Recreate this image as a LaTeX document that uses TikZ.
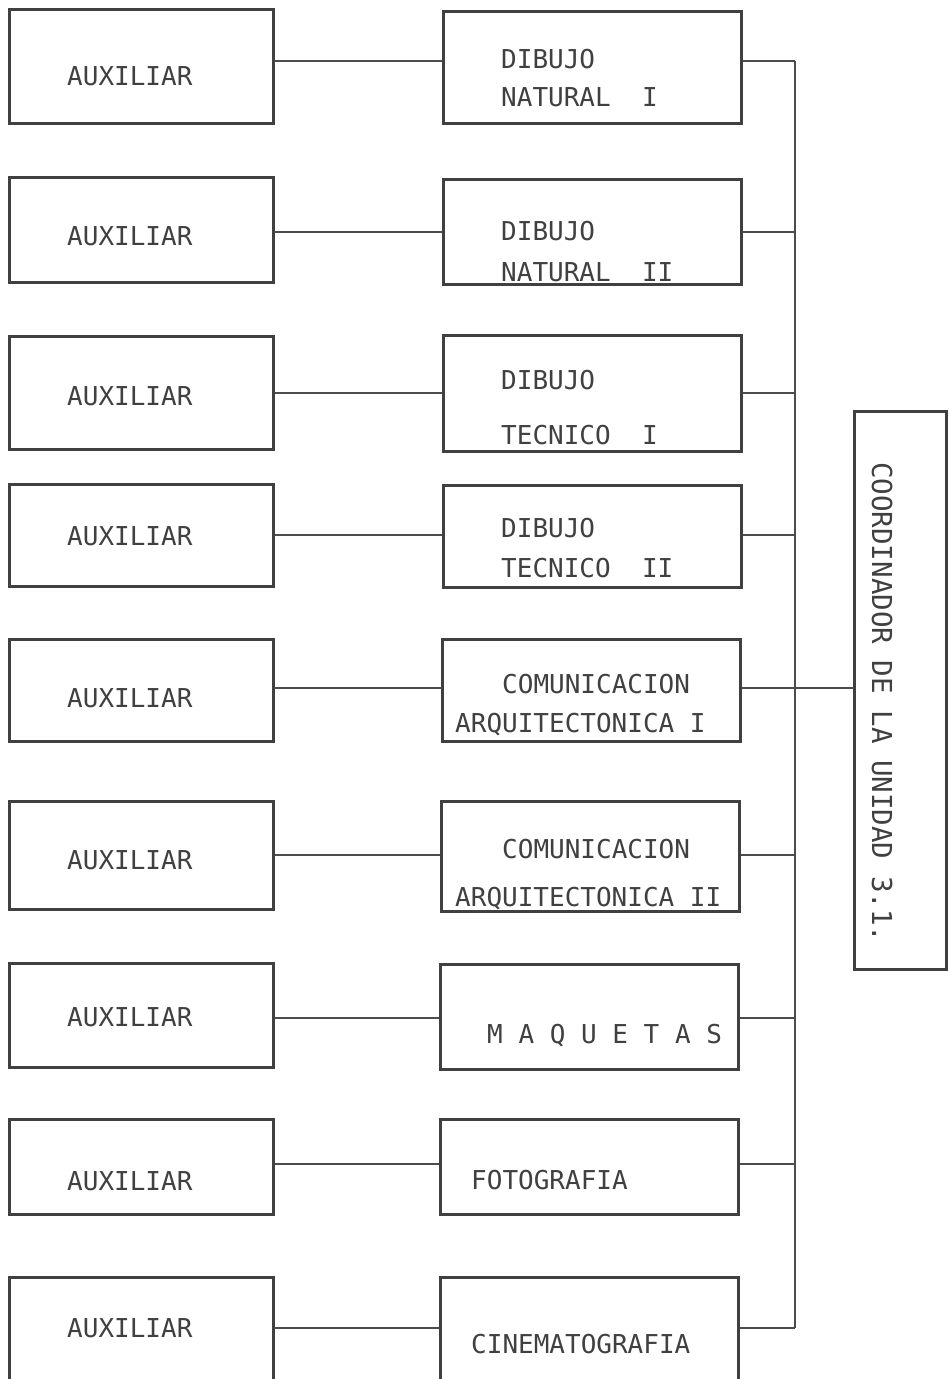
\documentclass[tikz,border=0pt]{standalone}
\usepackage{fontspec}
\newfontfamily\typefont{DejaVu Sans Mono}
\usetikzlibrary{positioning}

\begin{document}
\begin{tikzpicture}[
    x=1pt, y=-1pt,
    box/.style={draw=black!75, line width=2.6pt, anchor=north west, inner sep=0pt},
    auxbox/.style={box, minimum width=264pt},
    subjbox/.style={box, minimum width=298pt},
    lbl/.style={anchor=base west, inner sep=0pt, text=black!75, font=\typefont\fontsize{26}{30}\selectfont},
    link/.style={draw=black!70, line width=1.3pt}
]
\useasboundingbox (0,0) rectangle (949,1379);

% --- Auxiliares ---
\node[auxbox, minimum height=114pt] (aux1) at (8,8) {};
\node[auxbox, minimum height=105pt] (aux2) at (8,176) {};
\node[auxbox, minimum height=113pt] (aux3) at (8,335) {};
\node[auxbox, minimum height=102pt] (aux4) at (8,483) {};
\node[auxbox, minimum height=102pt] (aux5) at (8,638) {};
\node[auxbox, minimum height=108pt] (aux6) at (8,800) {};
\node[auxbox, minimum height=104pt] (aux7) at (8,962) {};
\node[auxbox, minimum height=95pt] (aux8) at (8,1118) {};
\node[auxbox, minimum height=110pt] (aux9) at (8,1276) {};

\node[lbl] (aux1t) at (67,85) {AUXILIAR};
\node[lbl] (aux2t) at (67,245) {AUXILIAR};
\node[lbl] (aux3t) at (67,405) {AUXILIAR};
\node[lbl] (aux4t) at (67,545) {AUXILIAR};
\node[lbl] (aux5t) at (67,707) {AUXILIAR};
\node[lbl] (aux6t) at (67,869) {AUXILIAR};
\node[lbl] (aux7t) at (67,1026) {AUXILIAR};
\node[lbl] (aux8t) at (67,1190) {AUXILIAR};
\node[lbl] (aux9t) at (67,1337) {AUXILIAR};

% --- Materias ---
\node[subjbox, minimum height=112pt] (dn1) at (442,10) {};
\node[subjbox, minimum height=105pt] (dn2) at (442,178) {};
\node[subjbox, minimum height=116pt] (dt1) at (442,334) {};
\node[subjbox, minimum height=102pt] (dt2) at (442,484) {};
\node[subjbox, minimum height=102pt] (ca1) at (441,638) {};
\node[subjbox, minimum height=110pt] (ca2) at (440,800) {};
\node[subjbox, minimum height=105pt] (maq) at (439,963) {};
\node[subjbox, minimum height=95pt] (foto) at (439,1118) {};
\node[subjbox, minimum height=110pt] (cine) at (439,1276) {};

\node[lbl] (dn1a) at (501,68) {DIBUJO};
\node[lbl] (dn1b) at (501,106) {NATURAL\ \ I};
\node[lbl] (dn2a) at (501,240) {DIBUJO};
\node[lbl] (dn2b) at (501,281) {NATURAL\ \ II};
\node[lbl] (dt1a) at (501,389) {DIBUJO};
\node[lbl] (dt1b) at (501,444) {TECNICO\ \ I};
\node[lbl] (dt2a) at (501,537) {DIBUJO};
\node[lbl] (dt2b) at (501,577) {TECNICO\ \ II};
\node[lbl] (ca1a) at (502,693) {COMUNICACION};
\node[lbl] (ca1b) at (455,732) {ARQUITECTONICA I};
\node[lbl] (ca2a) at (502,858) {COMUNICACION};
\node[lbl] (ca2b) at (455,906) {ARQUITECTONICA II};
\node[lbl] (maqt) at (487,1043) {M A Q U E T A S};
\node[lbl] (fotot) at (471,1189) {FOTOGRAFIA};
\node[lbl] (cinet) at (471,1353) {CINEMATOGRAFIA};

% --- Coordinador ---
\node[box, minimum width=92pt, minimum height=558pt] (coord) at (853,410) {};
\node[lbl, rotate=-90, font=\typefont\fontsize{27.5}{30}\selectfont] (coordt) at (872,462) {COORDINADOR DE LA UNIDAD 3.1.};

% row heights of the links
\coordinate (r1) at (0,61);
\coordinate (r2) at (0,232);
\coordinate (r3) at (0,393);
\coordinate (r4) at (0,535);
\coordinate (r5) at (0,688);
\coordinate (r6) at (0,855);
\coordinate (r7) at (0,1018);
\coordinate (r8) at (0,1164);
\coordinate (r9) at (0,1328);
\coordinate (bus) at (795,0);

% Links
\draw[link] (aux1.east |- r1) -- (dn1.west |- r1);
\draw[link] (aux2.east |- r2) -- (dn2.west |- r2);
\draw[link] (aux3.east |- r3) -- (dt1.west |- r3);
\draw[link] (aux4.east |- r4) -- (dt2.west |- r4);
\draw[link] (aux5.east |- r5) -- (ca1.west |- r5);
\draw[link] (aux6.east |- r6) -- (ca2.west |- r6);
\draw[link] (aux7.east |- r7) -- (maq.west |- r7);
\draw[link] (aux8.east |- r8) -- (foto.west |- r8);
\draw[link] (aux9.east |- r9) -- (cine.west |- r9);

\draw[link] (dn1.east |- r1) -- (bus |- r1);
\draw[link] (dn2.east |- r2) -- (bus |- r2);
\draw[link] (dt1.east |- r3) -- (bus |- r3);
\draw[link] (dt2.east |- r4) -- (bus |- r4);
\draw[link] (ca1.east |- r5) -- (coord.west |- r5);
\draw[link] (ca2.east |- r6) -- (bus |- r6);
\draw[link] (maq.east |- r7) -- (bus |- r7);
\draw[link] (foto.east |- r8) -- (bus |- r8);
\draw[link] (cine.east |- r9) -- (bus |- r9);
\draw[link] (bus |- r1) -- (bus |- r9);

\end{tikzpicture}
\end{document}
